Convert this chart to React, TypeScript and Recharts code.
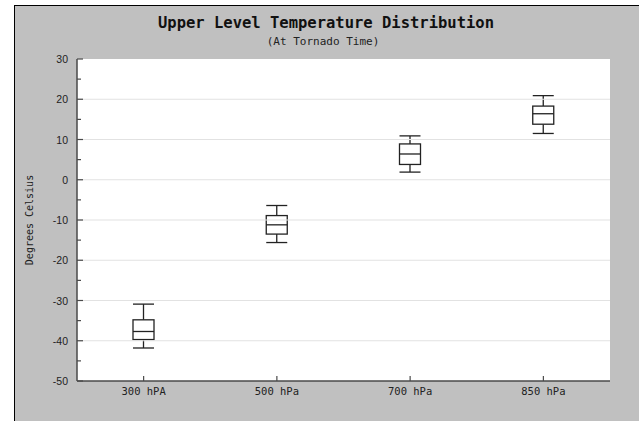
import React from 'react';
import { ComposedChart, Bar, XAxis, YAxis, ReferenceLine, ReferenceArea } from 'recharts';

// pressure levels and box stats (deg C)
const levels = ['300 hPA', '500 hPa', '700 hPa', '850 hPa'];
const whiskerLow = [-41.8, -15.6, 1.9, 11.5];
const quartile1 = [-39.7, -13.5, 3.8, 13.8];
const medians = [-37.7, -11.2, 6.4, 16.4];
const quartile3 = [-34.8, -8.9, 8.9, 18.3];
const whiskerHigh = [-30.9, -6.4, 10.9, 20.9];

const yTicks = [-50, -45, -40, -35, -30, -25, -20, -15, -10, -5, 0, 5, 10, 15, 20, 25, 30];
const gridValues = [-40, -30, -20, -10, 0, 10, 20];

const data = levels.map((name, i) => ({
  name,
  range: [whiskerLow[i], whiskerHigh[i]],
  low: whiskerLow[i],
  q1: quartile1[i],
  med: medians[i],
  q3: quartile3[i],
  high: whiskerHigh[i],
}));

const AXIS = '#4a4a4a';
const BOX = '#222';

const BoxShape = (props: any) => {
  const { x, y, width, height, payload } = props;
  if (payload == null) return null;
  const top = Math.min(y, y + height);
  const h = Math.abs(height);
  const span = payload.high - payload.low || 1;
  const py = (v: number) => top + ((payload.high - v) / span) * h;
  const cx = x + width / 2;
  return (
    <g stroke={BOX} strokeWidth={1.3} fill="none">
      <line x1={cx} x2={cx} y1={py(payload.high)} y2={py(payload.q3)} />
      <line x1={cx} x2={cx} y1={py(payload.q1)} y2={py(payload.low)} />
      <line x1={x} x2={x + width} y1={py(payload.high)} y2={py(payload.high)} />
      <line x1={x} x2={x + width} y1={py(payload.low)} y2={py(payload.low)} />
      <rect x={x} y={py(payload.q3)} width={width} height={py(payload.q1) - py(payload.q3)} fill="#fff" />
      <line x1={x} x2={x + width} y1={py(payload.med)} y2={py(payload.med)} />
    </g>
  );
};

const YTick = (props: any) => {
  const { x, y, payload } = props;
  const major = payload.value % 10 === 0;
  const ax = x + 9;
  return (
    <g>
      <line x1={ax} x2={ax + (major ? 6 : 4)} y1={y} y2={y} stroke={AXIS} strokeWidth={1.2} />
      {major && (
        <text x={x} y={y} dy={4} textAnchor="end" fontSize={10.5} fill="#222" fontFamily="Liberation Sans, Arial, sans-serif">
          {payload.value}
        </text>
      )}
    </g>
  );
};

const XTick = (props: any) => {
  const { x, y, payload } = props;
  const ay = y - 6;
  return (
    <g>
      <line x1={x} x2={x} y1={ay} y2={ay - 5} stroke={AXIS} strokeWidth={1.2} />
      <text x={x} y={y} dy={8} textAnchor="middle" fontSize={10.5} fill="#222" fontFamily="DejaVu Sans Mono, monospace">
        {payload.value}
      </text>
    </g>
  );
};

export default function App() {
  return (
    <div style={{ position: 'absolute', left: 0, top: 0, width: 639, height: 421, background: '#fff' }}>
      <div
        style={{
          position: 'absolute',
          left: 14,
          top: 5,
          width: 625,
          height: 416,
          boxSizing: 'border-box',
          background: '#c0c0c0',
          borderLeft: '1px solid #000',
          borderTop: '1px solid #000',
        }}
      />
      <div style={{ position: 'absolute', left: 0, top: 0 }}>
        <ComposedChart width={639} height={421} data={data} margin={{ top: 59, right: 29, bottom: 0, left: 0 }}>
          <XAxis
            dataKey="name"
            height={40}
            tickSize={0}
            tickMargin={6}
            tickLine={false}
            axisLine={{ stroke: AXIS, strokeWidth: 1.5 }}
            tick={<XTick />}
            interval={0}
          />
          <YAxis
            width={77}
            domain={[-50, 30]}
            ticks={yTicks}
            interval={0}
            tickSize={0}
            tickMargin={9}
            tickLine={false}
            axisLine={{ stroke: AXIS, strokeWidth: 1.5 }}
            tick={<YTick />}
          />
          <ReferenceArea y1={-50} y2={30} fill="#fff" fillOpacity={1} stroke="none" />
          {gridValues.map((v) => (
            <ReferenceLine key={v} y={v} stroke="#e2e2e2" strokeWidth={1.2} />
          ))}
          <Bar dataKey="range" barSize={21} shape={<BoxShape />} isAnimationActive={false} />
        </ComposedChart>
      </div>
      <svg width={639} height={421} style={{ position: 'absolute', left: 0, top: 0, pointerEvents: 'none' }}>
        <text x={326} y={28} textAnchor="middle" fontSize={15.5} fontWeight="bold" fill="#111" fontFamily="DejaVu Sans Mono, monospace">
          Upper Level Temperature Distribution
        </text>
        <text x={323} y={45} textAnchor="middle" fontSize={11} fill="#222" fontFamily="DejaVu Sans Mono, monospace">
          (At Tornado Time)
        </text>
        <text
          x={29}
          y={220}
          transform="rotate(-90 29 220)"
          textAnchor="middle"
          dominantBaseline="central"
          fontSize={10}
          fill="#222"
          fontFamily="DejaVu Sans Mono, monospace"
        >
          Degrees Celsius
        </text>
      </svg>
    </div>
  );
}
